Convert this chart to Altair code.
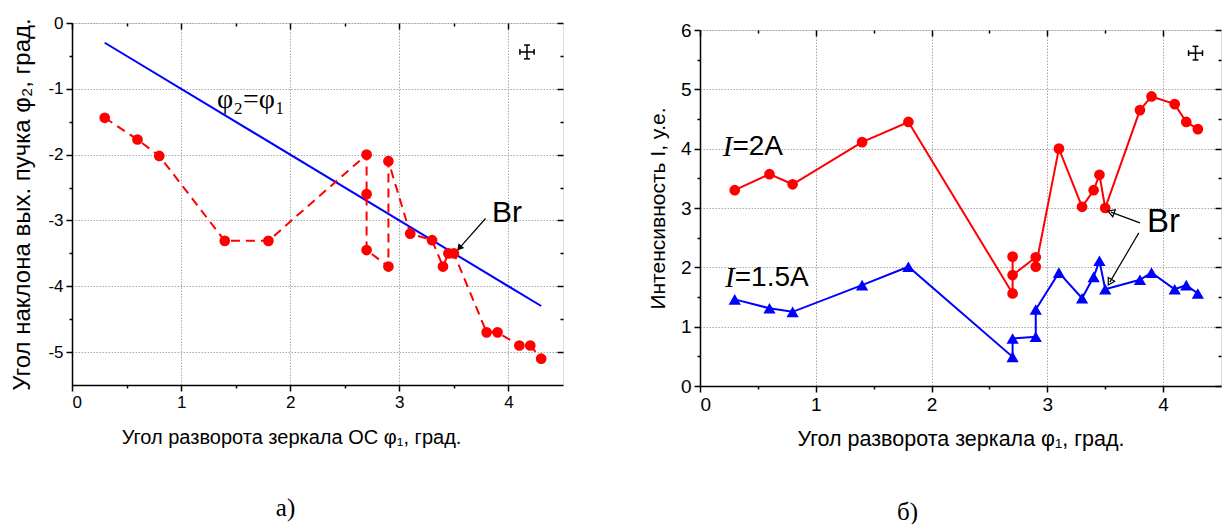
import altair as alt
import pandas as pd

SANS = "Liberation Sans"
SERIF = "Liberation Serif"
RED = "#ff0000"
BLUE = "#0000ff"

# ---------------- panel а) ----------------
a_phi1 = [0.3, 0.6, 0.8, 1.4, 1.8, 2.7, 2.7, 2.7, 2.9, 2.9, 3.1, 3.3, 3.4, 3.45, 3.5, 3.8, 3.9, 4.1, 4.2, 4.3]
a_phi2 = [-1.44, -1.77, -2.02, -3.31, -3.31, -2.0, -2.6, -3.45, -3.7, -2.1, -3.2, -3.3, -3.7, -3.5, -3.5, -4.7, -4.7, -4.9, -4.9, -5.1]
a_ref_x = [0.3, 4.3]
a_ref_y = [-0.3, -4.3]

# ---------------- panel б) ----------------
b_phi1_2A = [0.3, 0.6, 0.8, 1.4, 1.8, 2.7, 2.7, 2.7, 2.9, 2.9, 3.1, 3.3, 3.4, 3.45, 3.5, 3.8, 3.9, 4.1, 4.2, 4.3]
b_int_2A = [3.30, 3.57, 3.40, 4.11, 4.45, 1.56, 2.18, 1.87, 2.17, 2.01, 4.00, 3.02, 3.30, 3.56, 3.00, 4.65, 4.88, 4.75, 4.45, 4.33]
b_phi1_15A = [0.3, 0.6, 0.8, 1.4, 1.8, 2.7, 2.7, 2.9, 2.9, 3.1, 3.3, 3.4, 3.45, 3.5, 3.8, 3.9, 4.1, 4.2, 4.3]
b_int_15A = [1.46, 1.31, 1.25, 1.70, 2.01, 0.49, 0.80, 0.83, 1.29, 1.91, 1.48, 1.84, 2.11, 1.63, 1.79, 1.91, 1.63, 1.70, 1.56]

# ---------------- axes ----------------
x_domain = [0, 4.5]
x_major = [0, 1, 2, 3, 4]
x_minor = [0.5, 1.5, 2.5, 3.5]
a_y_domain = [-5.5, 0]
a_y_major = [0, -1, -2, -3, -4, -5]
a_y_minor = [-0.5, -1.5, -2.5, -3.5, -4.5]
b_y_domain = [0, 6]
b_y_major = [0, 1, 2, 3, 4, 5, 6]
b_y_minor = [0.5, 1.5, 2.5, 3.5, 4.5, 5.5]

a_xtitle = "Угол разворота зеркала ОС φ₁, град."
a_ytitle = "Угол наклона вых. пучка φ₂, град."
b_xtitle = "Угол разворота зеркала φ₁, град."
b_ytitle = "Интенсивность I, у.е."

# ---------------- annotations ----------------
a_label_text = ["φ₂=φ₁"]
a_label_x = [1.33]
a_label_y = [-1.17]
a_br_x = [3.85]
a_br_y = [-2.88]
a_arrow_x = [3.79]
a_arrow_y = [-2.97]
a_arrow_x2 = [3.55]
a_arrow_y2 = [-3.42]
a_arrow_angle = [220]

b_I_text = ["I", "I"]
b_rest_text = ["=2A", "=1.5A"]
b_lab_x = [0.28, 0.30]
b_lab_y = [4.03, 1.82]
b_br_x = [3.86]
b_br_y = [2.77]
b_arrow_x = [3.80, 3.79]
b_arrow_y = [2.75, 2.58]
b_arrow_x2 = [3.55, 3.54]
b_arrow_y2 = [2.93, 1.75]
b_arrow_angle = [290, 210]

# error-cross glyph (measurement error), centre and half sizes in data units
a_err = dict(cx=4.17, cy=-0.44, hx=0.065, hy=0.105)
b_err = dict(cx=4.28, cy=5.61, hx=0.06, hy=0.115)


def err_segments(e):
    cx, cy, hx, hy = e["cx"], e["cy"], e["hx"], e["hy"]
    cxw, cyw = hx * 0.42, hy * 0.42
    rows = [
        (cx - hx, cy, cx + hx, cy),
        (cx, cy - hy, cx, cy + hy),
        (cx - hx, cy - cyw, cx - hx, cy + cyw),
        (cx + hx, cy - cyw, cx + hx, cy + cyw),
        (cx - cxw, cy - hy, cx + cxw, cy - hy),
        (cx - cxw, cy + hy, cx + cxw, cy + hy),
    ]
    return pd.DataFrame(rows, columns=["x", "y", "x2", "y2"])


def axis_layers(xdom, ydom, xmaj, xmin, ymaj, ymin, xtitle, ytitle, ytp, lfs, xtfs, ytfs,
                xtp=18, xtitle_x=None):
    xs = alt.Scale(domain=xdom, nice=False, zero=False)
    ys = alt.Scale(domain=ydom, nice=False, zero=False)
    d = pd.DataFrame({"x": [xdom[0]], "y": [ydom[0]]})
    base = alt.Chart(d).mark_point(opacity=0)
    common = dict(labelFont=SANS, titleFont=SANS, labelFontSize=lfs,
                  labelColor="black", titleColor="black", titleFontWeight="normal",
                  tickColor="black", tickWidth=1.5, labelExpr="'' + datum.value")
    gridopts = dict(grid=True, gridColor="#a8a8a8", gridDash=[1.5, 1.5], gridWidth=1)
    xkw = dict(orient="bottom", values=xmaj, title=xtitle, tickSize=6, domainColor="black",
               domainWidth=1.5, labelPadding=3, titlePadding=xtp, titleFontSize=xtfs,
               **gridopts, **common)
    if xtitle_x is not None:
        xkw["titleX"] = xtitle_x
    main = base.encode(
        x=alt.X("x:Q", scale=xs, axis=alt.Axis(**xkw)),
        y=alt.Y("y:Q", scale=ys, axis=alt.Axis(orient="left", values=ymaj, title=ytitle, tickSize=6,
                                                domainColor="black", domainWidth=1.5, labelPadding=3,
                                                titlePadding=ytp, titleFontSize=ytfs,
                                                **gridopts, **common)),
    )
    minor = base.encode(
        x=alt.X("x:Q", scale=xs, title=None,
                axis=alt.Axis(orient="bottom", values=xmin, labels=False, grid=False, domain=False,
                              tickSize=3, tickWidth=1.5, tickColor="black")),
        y=alt.Y("y:Q", scale=ys, title=None,
                axis=alt.Axis(orient="left", values=ymin, labels=False, grid=False, domain=False,
                              tickSize=3, tickWidth=1.5, tickColor="black")),
    )
    topmaj = base.encode(
        x=alt.X("x:Q", scale=xs, title=None,
                axis=alt.Axis(orient="top", values=xmaj, labels=False, grid=False, domain=False,
                              tickSize=6, offset=-6, tickWidth=1.5, tickColor="black")),
        y=alt.Y("y:Q", scale=ys, title=None,
                axis=alt.Axis(orient="right", values=ymaj, labels=False, grid=False, domain=False,
                              tickSize=6, offset=-6, tickWidth=1.5, tickColor="black")),
    )
    topmin = base.encode(
        x=alt.X("x:Q", scale=xs, title=None,
                axis=alt.Axis(orient="top", values=xmin, labels=False, grid=False, domain=False,
                              tickSize=3, offset=-3, tickWidth=1.5, tickColor="black")),
        y=alt.Y("y:Q", scale=ys, title=None,
                axis=alt.Axis(orient="right", values=ymin, labels=False, grid=False, domain=False,
                              tickSize=3, offset=-3, tickWidth=1.5, tickColor="black")),
    )
    return [main, minor, topmaj, topmin], xs, ys


def xy(xs, ys, xf="x", yf="y"):
    return dict(x=alt.X(f"{xf}:Q", scale=xs, axis=None), y=alt.Y(f"{yf}:Q", scale=ys, axis=None))


def err_layer(e, xs, ys):
    return alt.Chart(err_segments(e)).mark_rule(color="black", strokeWidth=1.5).encode(
        x=alt.X("x:Q", scale=xs, axis=None), y=alt.Y("y:Q", scale=ys, axis=None),
        x2="x2:Q", y2="y2:Q")


def arrow_layers(ax, ay, ax2, ay2, ang, xs, ys, filled):
    df = pd.DataFrame({"x": ax, "y": ay, "x2": ax2, "y2": ay2, "a": ang})
    shaft = alt.Chart(df).mark_rule(color="black", strokeWidth=1.2).encode(
        x=alt.X("x:Q", scale=xs, axis=None), y=alt.Y("y:Q", scale=ys, axis=None), x2="x2:Q", y2="y2:Q")
    head = alt.Chart(df).mark_point(shape="triangle-up", filled=filled, color="black", size=55,
                                    opacity=1, strokeWidth=1.2).encode(
        x=alt.X("x2:Q", scale=xs, axis=None), y=alt.Y("y2:Q", scale=ys, axis=None),
        angle=alt.Angle("a:Q", scale=None))
    return [shaft, head]


# ================= panel а) =================
a_axes, axs, ays = axis_layers(x_domain, a_y_domain, x_major, x_minor, a_y_major, a_y_minor,
                               a_xtitle, a_ytitle, ytp=13, lfs=17, xtfs=20, ytfs=24, xtp=17,
                               xtitle_x=219)
a_df = pd.DataFrame({"x": a_phi1, "y": a_phi2, "o": list(range(len(a_phi1)))})
a_ref = pd.DataFrame({"x": a_ref_x, "y": a_ref_y})
a_line = alt.Chart(a_df).mark_line(color=RED, strokeDash=[9, 6], strokeWidth=2).encode(
    **xy(axs, ays), order="o:Q")
a_pts = alt.Chart(a_df).mark_circle(color=RED, size=115, opacity=1).encode(**xy(axs, ays))
a_refline = alt.Chart(a_ref).mark_line(color=BLUE, strokeWidth=2).encode(**xy(axs, ays))
a_lab = alt.Chart(pd.DataFrame({"t": a_label_text, "x": a_label_x, "y": a_label_y})).mark_text(
    font=SERIF, fontSize=28, align="left", baseline="middle", color="black").encode(**xy(axs, ays), text="t:N")
a_br = alt.Chart(pd.DataFrame({"t": ["Br"], "x": a_br_x, "y": a_br_y})).mark_text(
    font=SANS, fontSize=30, align="left", baseline="middle", color="black").encode(**xy(axs, ays), text="t:N")

panel_a = alt.layer(
    *a_axes, a_refline, a_line, a_pts, a_lab, a_br,
    *arrow_layers(a_arrow_x, a_arrow_y, a_arrow_x2, a_arrow_y2, a_arrow_angle, axs, ays, True),
    err_layer(a_err, axs, ays),
).properties(
    width=491, height=362,
    title=alt.TitleParams("а)", orient="bottom", font=SERIF, fontSize=25, fontWeight="normal",
                          color="black", frame="group", anchor="middle", dx=-32, offset=49),
)

# ================= panel б) =================
b_axes, bxs, bys = axis_layers(x_domain, b_y_domain, x_major, x_minor, b_y_major, b_y_minor,
                               b_xtitle, b_ytitle, ytp=12, lfs=19, xtfs=21.5, ytfs=21, xtp=14)
b_red = pd.DataFrame({"x": b_phi1_2A, "y": b_int_2A, "o": list(range(len(b_phi1_2A)))})
b_blue = pd.DataFrame({"x": b_phi1_15A, "y": b_int_15A, "o": list(range(len(b_phi1_15A)))})
b_red_line = alt.Chart(b_red).mark_line(color=RED, strokeWidth=2).encode(**xy(bxs, bys), order="o:Q")
b_red_pts = alt.Chart(b_red).mark_circle(color=RED, size=115, opacity=1).encode(**xy(bxs, bys))
b_blue_line = alt.Chart(b_blue).mark_line(color=BLUE, strokeWidth=2).encode(**xy(bxs, bys), order="o:Q")
b_blue_pts = alt.Chart(b_blue).mark_point(shape="triangle-up", filled=True, color=BLUE, size=150,
                                          opacity=1).encode(**xy(bxs, bys))
b_lab_df = pd.DataFrame({"i": b_I_text, "r": b_rest_text, "x": b_lab_x, "y": b_lab_y})
b_I = alt.Chart(b_lab_df).mark_text(font=SERIF, fontStyle="italic", fontSize=29, align="right",
                                    baseline="middle", color="black").encode(**xy(bxs, bys), text="i:N")
b_rest = alt.Chart(b_lab_df).mark_text(font=SANS, fontSize=28, align="left", baseline="middle",
                                       color="black").encode(**xy(bxs, bys), text="r:N")
b_br = alt.Chart(pd.DataFrame({"t": ["Br"], "x": b_br_x, "y": b_br_y})).mark_text(
    font=SANS, fontSize=33, align="left", baseline="middle", color="black").encode(**xy(bxs, bys), text="t:N")

panel_b = alt.layer(
    *b_axes, b_red_line, b_blue_line, b_red_pts, b_blue_pts, b_I, b_rest, b_br,
    *arrow_layers(b_arrow_x, b_arrow_y, b_arrow_x2, b_arrow_y2, b_arrow_angle, bxs, bys, False),
    err_layer(b_err, bxs, bys),
).properties(
    width=521, height=356,
    title=alt.TitleParams("б)", orient="bottom", font=SERIF, fontSize=25, fontWeight="normal",
                          color="black", frame="group", anchor="middle", dx=-53, offset=50),
)

# invisible spacer that lowers panel б) a few pixels relative to panel а)
spacer = alt.Chart(pd.DataFrame({"x": [0]})).mark_rule(opacity=0).encode(
    x=alt.value(0)).properties(width=1, height=1, view=alt.ViewBackground(stroke="transparent"))

chart = alt.hconcat(panel_a, alt.vconcat(spacer, panel_b, spacing=-5), spacing=81).properties(
    padding={"left": 2, "top": 5, "right": 0, "bottom": 0},
).configure_view(stroke="black", strokeWidth=1.5).configure(background="white")

chart.save("out.html", embed_options={"renderer": "svg", "actions": False})
